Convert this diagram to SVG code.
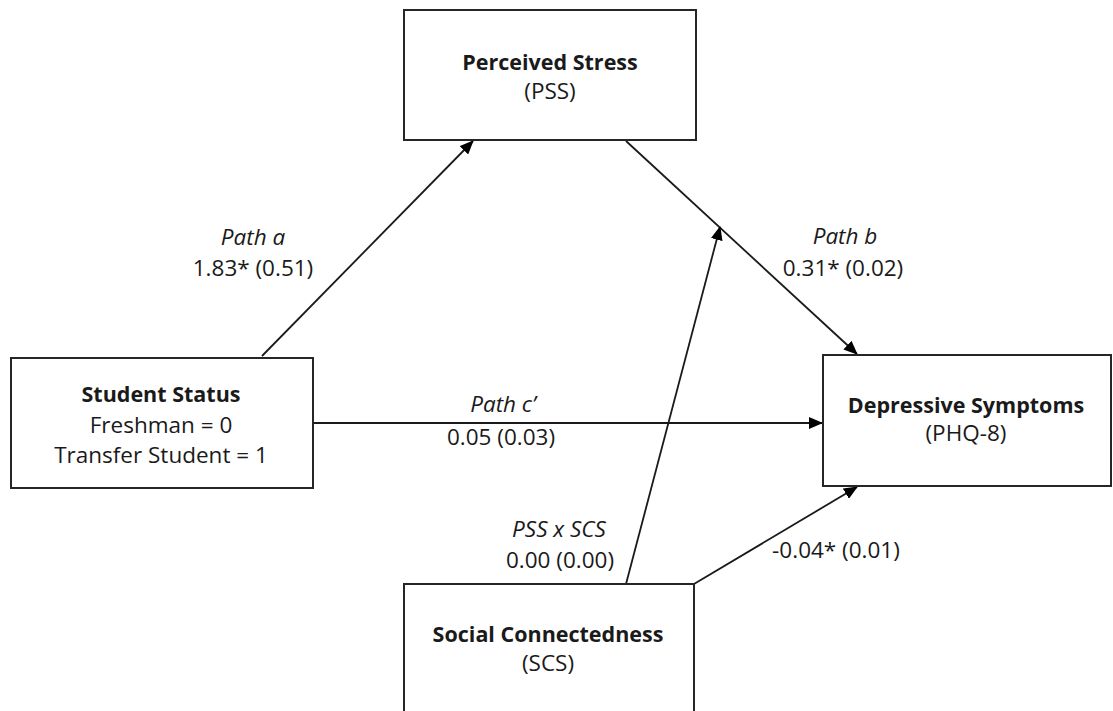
<svg xmlns="http://www.w3.org/2000/svg" width="1113" height="711" viewBox="0 0 1113 711">
  <style>
    .box { fill: #ffffff; stroke: #262626; stroke-width: 2; }
    .edge { fill: none; stroke: #1a1a1a; stroke-width: 1.8; marker-end: url(#arrow); }
    text { font-family: "Open Sans", "Liberation Sans", sans-serif; font-size: 22.5px; fill: #1a1a1a; text-anchor: middle; }
    .title { font-weight: bold; font-size: 21.5px; }
    .it { font-style: italic; }
  </style>
  <defs>
    <marker id="arrow" viewBox="0 0 14 12" refX="13" refY="6" markerWidth="14" markerHeight="12" markerUnits="userSpaceOnUse" orient="auto">
      <path d="M0,0 L14,6 L0,12 z" fill="#000000"/>
    </marker>
  </defs>
  <rect width="1113" height="711" fill="#ffffff"/>

  <!-- connectors -->
  <g id="connectors">
    <line class="edge" x1="262" y1="356" x2="473" y2="141"/>
    <line class="edge" x1="626" y1="141" x2="857" y2="354"/>
    <line class="edge" x1="313" y1="423" x2="822" y2="423"/>
    <line class="edge" x1="626" y1="584" x2="720" y2="227"/>
    <line class="edge" x1="694" y1="584" x2="857" y2="487"/>
  </g>

  <!-- path labels -->
  <g id="labels">
    <text class="it" x="253" y="245">Path a</text>
    <text x="253" y="276">1.83* (0.51)</text>
    <text class="it" x="845" y="244">Path b</text>
    <text x="843" y="276">0.31* (0.02)</text>
    <text class="it" x="503" y="412">Path c’</text>
    <text x="501" y="445">0.05 (0.03)</text>
    <text class="it" x="559" y="537">PSS x SCS</text>
    <text x="560" y="568">0.00 (0.00)</text>
    <text x="836" y="558">-0.04* (0.01)</text>
  </g>

  <g id="pss">
    <rect class="box" x="404" y="10" width="292" height="130"/>
    <text class="title" x="550" y="70">Perceived Stress</text>
    <text x="550" y="99">(PSS)</text>
  </g>

  <g id="status">
    <rect class="box" x="11" y="358" width="302" height="130"/>
    <text class="title" x="161" y="402">Student Status</text>
    <text x="161" y="433">Freshman = 0</text>
    <text x="161" y="463">Transfer Student = 1</text>
  </g>

  <g id="depression">
    <rect class="box" x="823" y="355" width="288" height="131"/>
    <text class="title" x="966" y="413">Depressive Symptoms</text>
    <text x="966" y="441">(PHQ-8)</text>
  </g>

  <g id="connectedness">
    <rect class="box" x="404" y="584" width="290" height="140"/>
    <text class="title" x="548" y="642">Social Connectedness</text>
    <text x="548" y="671">(SCS)</text>
  </g>
</svg>
